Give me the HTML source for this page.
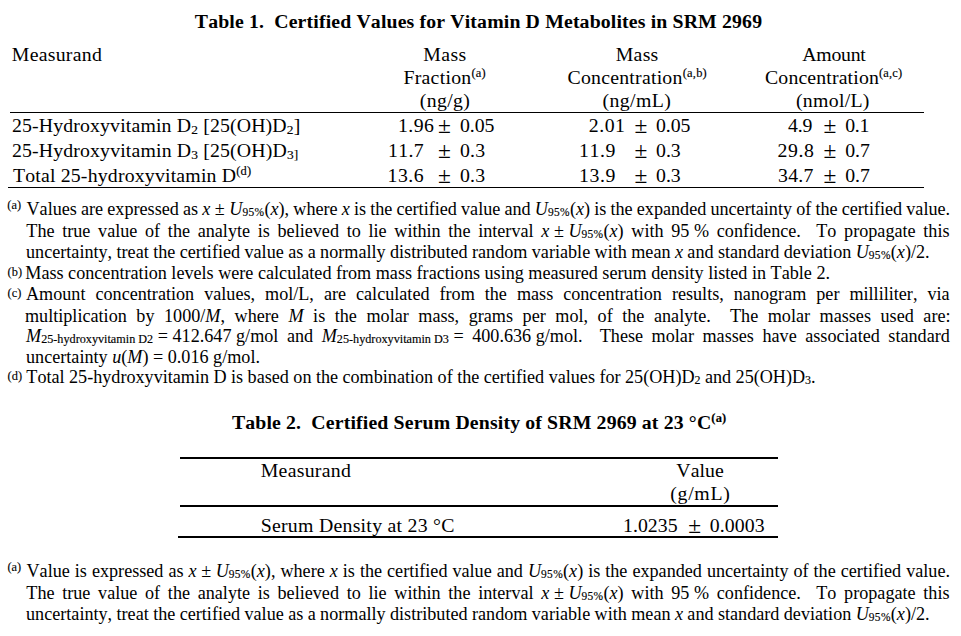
<!DOCTYPE html>
<html><head><meta charset="utf-8"><title>SRM 2969</title>
<style>
html,body{margin:0;padding:0;background:#fff;}
body{width:961px;height:636px;position:relative;overflow:hidden;font-family:"Liberation Serif",serif;color:#000;font-kerning:none;font-variant-ligatures:none;}
.l{position:absolute;line-height:20px;height:20px;white-space:nowrap;}
.b{font-weight:bold;}
.sp{position:relative;line-height:0;-webkit-text-stroke:0.15px #000;}
.m{-webkit-text-stroke:0.12px #000;}
.nb{word-spacing:0;}
.r{position:absolute;background:#000;}
</style></head><body>
<div class="r" style="left:10.0px;top:112.00px;width:914.0px;height:1px"></div>
<div class="r" style="left:8.0px;top:187.00px;width:916.0px;height:1px"></div>
<div class="r" style="left:180.0px;top:457.00px;width:598.0px;height:2px"></div>
<div class="r" style="left:180.0px;top:505.00px;width:598.0px;height:2px"></div>
<div class="r" style="left:178.0px;top:536.00px;width:600.0px;height:2px"></div>
<div class="l b" style="left:194.80px;top:11.00px;font-size:19.8px;letter-spacing:0.143px;">Table 1.&nbsp; Certified Values for Vitamin D Metabolites in SRM 2969</div>
<div class="l " style="left:11.80px;top:44.00px;font-size:19.8px;letter-spacing:0.263px;">Measurand</div>
<div class="l " style="left:423.30px;top:44.00px;font-size:19.8px;letter-spacing:0.400px;">Mass</div>
<div class="l " style="left:403.50px;top:67.00px;font-size:19.8px;letter-spacing:0.250px;">Fraction<span class="sp" style="font-size:0.63em;top:-0.524em">(a)</span></div>
<div class="l " style="left:419.80px;top:90.00px;font-size:19.8px;letter-spacing:0.340px;">(ng/g)</div>
<div class="l " style="left:615.80px;top:44.00px;font-size:19.8px;letter-spacing:0.233px;">Mass</div>
<div class="l " style="left:567.50px;top:67.00px;font-size:19.8px;letter-spacing:0.235px;">Concentration<span class="sp" style="font-size:0.63em;top:-0.524em">(a,b)</span></div>
<div class="l " style="left:602.50px;top:90.00px;font-size:19.8px;letter-spacing:0.417px;">(ng/mL)</div>
<div class="l " style="left:802.30px;top:44.00px;font-size:19.8px;letter-spacing:-0.260px;">Amount</div>
<div class="l " style="left:765.00px;top:67.00px;font-size:19.8px;letter-spacing:0.147px;">Concentration<span class="sp" style="font-size:0.63em;top:-0.524em">(a,c)</span></div>
<div class="l " style="left:796.00px;top:90.00px;font-size:19.8px;letter-spacing:0.286px;">(nmol/L)</div>
<div class="l " style="left:11.90px;top:115.00px;font-size:19.8px;letter-spacing:0.153px;">25-Hydroxyvitamin D<span class="sp" style="font-size:0.68em;top:0.176em">2</span> [25(OH)D<span class="sp" style="font-size:0.68em;top:0.176em">2</span>]</div>
<div class="l " style="left:11.90px;top:140.00px;font-size:19.8px;letter-spacing:0.157px;">25-Hydroxyvitamin D<span class="sp" style="font-size:0.68em;top:0.176em">3</span> [25(OH)D<span class="sp" style="font-size:0.68em;top:0.176em">3]</span></div>
<div class="l " style="left:12.90px;top:165.00px;font-size:19.8px;letter-spacing:0.189px;">Total 25-hydroxyvitamin D<span class="sp" style="font-size:0.63em;top:-0.524em">(d)</span></div>
<div class="l " style="left:398.00px;top:115.00px;font-size:19.8px;letter-spacing:0.433px;">1.96</div>
<div class="l " style="left:437.90px;top:115.00px;font-size:23.4px;">&plusmn;</div>
<div class="l " style="left:460.00px;top:115.00px;font-size:19.8px;letter-spacing:-0.067px;">0.05</div>
<div class="l " style="left:388.00px;top:140.00px;font-size:19.8px;letter-spacing:0.333px;">11.7</div>
<div class="l " style="left:437.90px;top:140.00px;font-size:23.4px;">&plusmn;</div>
<div class="l " style="left:460.00px;top:140.00px;font-size:19.8px;letter-spacing:0.150px;">0.3</div>
<div class="l " style="left:387.50px;top:165.00px;font-size:19.8px;letter-spacing:0.500px;">13.6</div>
<div class="l " style="left:437.90px;top:165.00px;font-size:23.4px;">&plusmn;</div>
<div class="l " style="left:460.00px;top:165.00px;font-size:19.8px;letter-spacing:0.150px;">0.3</div>
<div class="l " style="left:588.80px;top:115.00px;font-size:19.8px;letter-spacing:0.500px;">2.01</div>
<div class="l " style="left:634.40px;top:115.00px;font-size:23.4px;">&plusmn;</div>
<div class="l " style="left:656.00px;top:115.00px;font-size:19.8px;letter-spacing:-0.067px;">0.05</div>
<div class="l " style="left:579.00px;top:140.00px;font-size:19.8px;letter-spacing:0.600px;">11.9</div>
<div class="l " style="left:634.40px;top:140.00px;font-size:23.4px;">&plusmn;</div>
<div class="l " style="left:656.00px;top:140.00px;font-size:19.8px;letter-spacing:0.000px;">0.3</div>
<div class="l " style="left:579.00px;top:165.00px;font-size:19.8px;letter-spacing:0.600px;">13.9</div>
<div class="l " style="left:634.40px;top:165.00px;font-size:23.4px;">&plusmn;</div>
<div class="l " style="left:656.00px;top:165.00px;font-size:19.8px;letter-spacing:0.000px;">0.3</div>
<div class="l " style="left:788.00px;top:115.00px;font-size:19.8px;letter-spacing:-0.200px;">4.9</div>
<div class="l " style="left:823.60px;top:115.00px;font-size:23.4px;">&plusmn;</div>
<div class="l " style="left:845.20px;top:115.00px;font-size:19.8px;letter-spacing:-0.300px;">0.1</div>
<div class="l " style="left:777.50px;top:140.00px;font-size:19.8px;letter-spacing:0.567px;">29.8</div>
<div class="l " style="left:823.60px;top:140.00px;font-size:23.4px;">&plusmn;</div>
<div class="l " style="left:845.20px;top:140.00px;font-size:19.8px;letter-spacing:0.000px;">0.7</div>
<div class="l " style="left:778.00px;top:165.00px;font-size:19.8px;letter-spacing:0.267px;">34.7</div>
<div class="l " style="left:823.60px;top:165.00px;font-size:23.4px;">&plusmn;</div>
<div class="l " style="left:845.20px;top:165.00px;font-size:19.8px;letter-spacing:0.000px;">0.7</div>
<div class="l m" style="left:7.30px;top:195.00px;font-size:12.4px;">(a)</div>
<div class="l " style="left:26.50px;top:199.00px;font-size:18.15px;word-spacing:-0.395px;">Values are expressed as <i>x</i><span class="nb">&nbsp;</span>&plusmn;<span class="nb">&nbsp;</span><i>U</i><span class="sp" style="font-size:0.63em;top:0.06em;letter-spacing:0.35px">95%</span>(<i>x</i>), where <i>x</i> is the certified value and <i>U</i><span class="sp" style="font-size:0.63em;top:0.06em;letter-spacing:0.35px">95%</span>(<i>x</i>) is the expanded uncertainty of the certified value.</div>
<div class="l " style="left:26.30px;top:221.00px;font-size:18.15px;word-spacing:3.150px;">The true value of the analyte is believed to lie within the interval <i>x</i><span class="nb">&nbsp;</span>&plusmn;<span class="nb">&nbsp;</span><i>U</i><span class="sp" style="font-size:0.63em;top:0.06em;letter-spacing:0.35px">95%</span>(<i>x</i>) with 95<span class="nb">&nbsp;</span>% confidence.&nbsp; To propagate this</div>
<div class="l " style="left:26.00px;top:242.00px;font-size:18.15px;word-spacing:-0.147px;">uncertainty, treat the certified value as a normally distributed random variable with mean <i>x</i> and standard deviation <i>U</i><span class="sp" style="font-size:0.63em;top:0.06em;letter-spacing:0.35px">95%</span>(<i>x</i>)/2.</div>
<div class="l m" style="left:7.60px;top:262.00px;font-size:12.4px;">(b)</div>
<div class="l " style="left:25.30px;top:263.00px;font-size:18.15px;word-spacing:-0.020px;">Mass concentration levels were calculated from mass fractions using measured serum density listed in Table 2.</div>
<div class="l m" style="left:7.60px;top:283.00px;font-size:12.4px;">(c)</div>
<div class="l " style="left:26.00px;top:284.00px;font-size:18.15px;word-spacing:5.450px;">Amount concentration values, mol/L, are calculated from the mass concentration results, nanogram per milliliter, via</div>
<div class="l " style="left:25.00px;top:306.00px;font-size:18.15px;word-spacing:5.015px;">multiplication by 1000/<i>M</i>, where <i>M</i> is the molar mass, grams per mol, of the analyte.&nbsp; The molar masses used are:</div>
<div class="l " style="left:26.00px;top:326.00px;font-size:18.15px;word-spacing:4.030px;"><i>M</i><span class="sp" style="font-size:0.672em;top:0.074em">25-hydroxyvitamin<span class="nb">&nbsp;</span>D2</span><span class="nb">&nbsp;</span>=<span class="nb">&nbsp;</span>412.647<span class="nb">&nbsp;</span>g/mol and <i>M</i><span class="sp" style="font-size:0.672em;top:0.074em">25-hydroxyvitamin<span class="nb">&nbsp;</span>D3</span><span class="nb">&nbsp;</span>= 400.636<span class="nb">&nbsp;</span>g/mol.&nbsp; These molar masses have associated standard</div>
<div class="l " style="left:26.00px;top:347.00px;font-size:18.15px;">uncertainty <i>u</i>(<i>M</i>) = 0.016 g/mol.</div>
<div class="l m" style="left:7.60px;top:366.00px;font-size:12.4px;">(d)</div>
<div class="l " style="left:26.30px;top:367.00px;font-size:18.15px;word-spacing:-0.100px;">Total 25-hydroxyvitamin D is based on the combination of the certified values for 25(OH)D<span class="sp" style="font-size:0.66em;top:0.091em">2</span> and 25(OH)D<span class="sp" style="font-size:0.66em;top:0.091em">3</span>.</div>
<div class="l b" style="left:231.90px;top:412.00px;font-size:19.8px;letter-spacing:0.145px;">Table 2.&nbsp; Certified Serum Density of SRM 2969 at 23 &deg;C<span class="sp" style="font-size:0.63em;top:-0.524em">(a)</span></div>
<div class="l " style="left:260.70px;top:460.00px;font-size:19.8px;letter-spacing:0.288px;">Measurand</div>
<div class="l " style="left:676.30px;top:460.00px;font-size:19.8px;letter-spacing:0.075px;">Value</div>
<div class="l " style="left:670.30px;top:483.00px;font-size:19.8px;letter-spacing:0.680px;">(g/mL)</div>
<div class="l " style="left:260.70px;top:515.00px;font-size:19.8px;letter-spacing:0.267px;">Serum Density at 23 &deg;C</div>
<div class="l " style="left:623.00px;top:515.00px;font-size:19.8px;letter-spacing:0.040px;">1.0235</div>
<div class="l " style="left:688.20px;top:515.00px;font-size:23.4px;">&plusmn;</div>
<div class="l " style="left:709.70px;top:515.00px;font-size:19.8px;letter-spacing:0.120px;">0.0003</div>
<div class="l m" style="left:7.40px;top:557.00px;font-size:12.4px;">(a)</div>
<div class="l " style="left:26.50px;top:561.00px;font-size:18.15px;word-spacing:0.455px;">Value is expressed as <i>x</i><span class="nb">&nbsp;</span>&plusmn;<span class="nb">&nbsp;</span><i>U</i><span class="sp" style="font-size:0.63em;top:0.06em;letter-spacing:0.35px">95%</span>(<i>x</i>), where <i>x</i> is the certified value and <i>U</i><span class="sp" style="font-size:0.63em;top:0.06em;letter-spacing:0.35px">95%</span>(<i>x</i>) is the expanded uncertainty of the certified value.</div>
<div class="l " style="left:26.30px;top:583.00px;font-size:18.15px;word-spacing:3.150px;">The true value of the analyte is believed to lie within the interval <i>x</i><span class="nb">&nbsp;</span>&plusmn;<span class="nb">&nbsp;</span><i>U</i><span class="sp" style="font-size:0.63em;top:0.06em;letter-spacing:0.35px">95%</span>(<i>x</i>) with 95<span class="nb">&nbsp;</span>% confidence.&nbsp; To propagate this</div>
<div class="l " style="left:26.00px;top:604.00px;font-size:18.15px;word-spacing:-0.147px;">uncertainty, treat the certified value as a normally distributed random variable with mean <i>x</i> and standard deviation <i>U</i><span class="sp" style="font-size:0.63em;top:0.06em;letter-spacing:0.35px">95%</span>(<i>x</i>)/2.</div>
</body></html>
